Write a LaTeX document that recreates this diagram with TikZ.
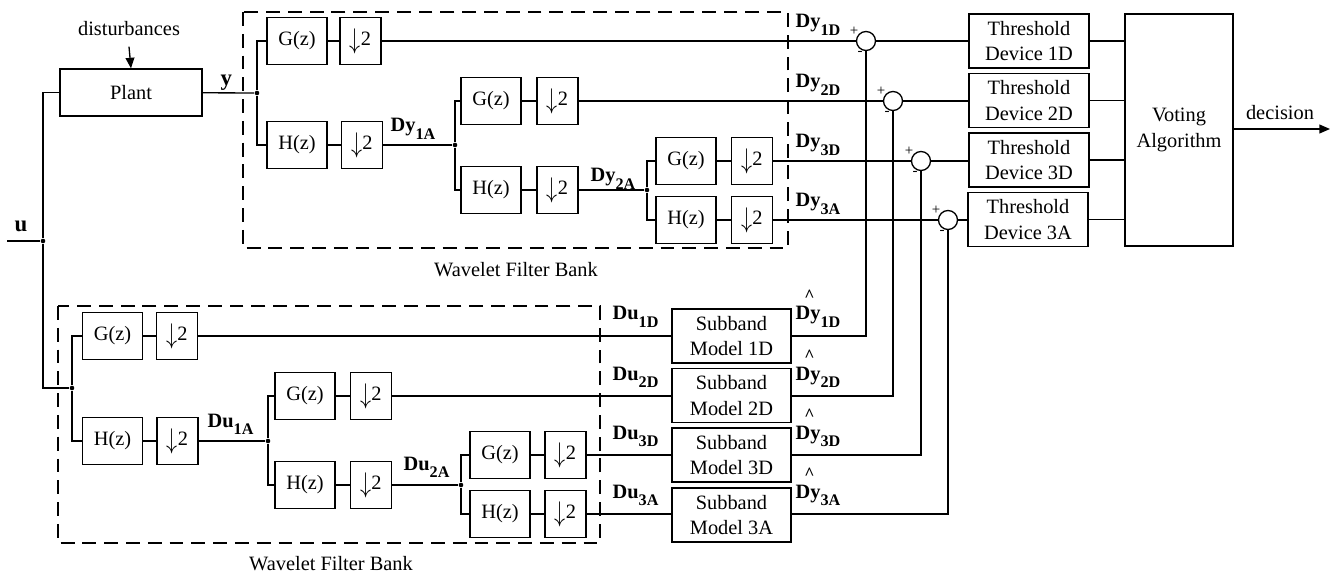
\documentclass[tikz,border=0pt]{standalone}
\usepackage{fontspec}
\setmainfont{Liberation Serif}
\usetikzlibrary{arrows.meta,positioning,calc}
% signal label: bold name with dropped bold index
\newcommand{\sgl}[2]{\textbf{#1}\raisebox{-4.5pt}{\fontsize{9.2}{10}\selectfont\textbf{#2}}}
\newcommand{\hsgl}[2]{\makebox[0pt][l]{\hspace{5pt}\raisebox{10.6pt}{\fontsize{10}{10}\selectfont\textbf{\textasciicircum}}}\sgl{#1}{#2}}
\newcommand{\dn}{\raisebox{-1.5pt}{\scalebox{1.05}[1.35]{$\downarrow$}}2}

\begin{document}
\begin{tikzpicture}[x=0.02cm,y=-0.02cm,
  font=\fontsize{11.6}{14.6}\selectfont,
  line width=0.75pt,
  fbox/.style={draw,minimum width=1.2cm,minimum height=0.94cm,inner sep=0pt},
  dbox/.style={draw,minimum width=0.82cm,minimum height=0.94cm,inner sep=0pt},
  tbox/.style={draw,minimum width=2.4cm,minimum height=1.08cm,align=center,inner sep=0pt},
  sbox/.style={draw,minimum width=2.38cm,minimum height=1.08cm,align=center,inner sep=0pt},
  sumc/.style={draw,circle,minimum size=0.38cm,inner sep=0pt},
  sgn/.style={font=\fontsize{8.5}{10}\selectfont,inner sep=0pt},
  lbl/.style={anchor=base west,inner sep=0pt},
  jdot/.style={circle,fill,inner sep=0pt,minimum size=2.6pt},
  bank/.style={draw,line width=1.6pt,dash pattern=on 7.9pt off 4.5pt},
  arr/.style={-{Triangle[length=6pt,width=5pt]}}
]
  \useasboundingbox (0,0) rectangle (1332,577);

  % Plant and inputs
  \node[anchor=base,inner xsep=0pt,inner ysep=5.6pt] (dist) at (129,36) {disturbances};
  \node[draw,minimum width=2.84cm,minimum height=0.94cm] (plant) at (131,92.5) {Plant};
  \draw[arr] (dist.south) -- (plant.north);
  \coordinate (uin) at (7,241);
  \node[jdot] (ujn) at (43,241) {};
  \node[lbl,font=\fontsize{13}{14}\selectfont] (ulbl) at (14,232) {\textbf{u}};
  \node[lbl,font=\fontsize{13}{14}\selectfont] (ylbl) at (220,86) {\textbf{y}};

  % Wavelet filter bank (output)
  \draw[bank] (243,12) rectangle (788,248);
  \node[anchor=base] (toplbl) at (516,277) {Wavelet Filter Bank};
  \node[jdot] (tj1) at (257,93) {};
  \node[fbox] (g1) at (297,41) {G(z)};
  \node[dbox] (dg1) at (360.5,41) {\dn};
  \node[fbox] (h1) at (297,145) {H(z)};
  \node[dbox] (dh1) at (362,145) {\dn};
  \node[lbl] (dy1a) at (390,132) {\sgl{Dy}{1A}};
  \node[jdot] (tj2) at (455,145) {};
  \node[fbox] (g2) at (491,101) {G(z)};
  \node[dbox] (dg2) at (557.5,101) {\dn};
  \node[fbox] (h2) at (491,190) {H(z)};
  \node[dbox] (dh2) at (557.5,190) {\dn};
  \node[lbl] (dy2a) at (590,182) {\sgl{Dy}{2A}};
  \node[jdot] (tj3) at (647,190) {};
  \node[fbox] (g3) at (686,161) {G(z)};
  \node[dbox] (dg3) at (752,161) {\dn};
  \node[fbox] (h3) at (686,220) {H(z)};
  \node[dbox] (dh3) at (752,220) {\dn};

  % Wavelet filter bank (input)
  \draw[bank] (58,306) rectangle (600,543);
  \node[anchor=base] (botlbl) at (331,570) {Wavelet Filter Bank};
  \node[jdot] (bj1) at (72,388) {};
  \node[fbox] (bg1) at (112.5,336) {G(z)};
  \node[dbox] (bdg1) at (177,336) {\dn};
  \node[fbox] (bh1) at (112.5,441) {H(z)};
  \node[dbox] (bdh1) at (177.5,441) {\dn};
  \node[lbl] (du1a) at (207,427) {\sgl{Du}{1A}};
  \node[jdot] (bj2) at (268,441) {};
  \node[fbox] (bg2) at (305,396) {G(z)};
  \node[dbox] (bdg2) at (371,396) {\dn};
  \node[fbox] (bh2) at (305,485) {H(z)};
  \node[dbox] (bdh2) at (371,485) {\dn};
  \node[lbl] (du2a) at (403,470) {\sgl{Du}{2A}};
  \node[jdot] (bj3) at (461,485) {};
  \node[fbox] (bg3) at (500,455) {G(z)};
  \node[dbox] (bdg3) at (565.5,455) {\dn};
  \node[fbox] (bh3) at (500,514) {H(z)};
  \node[dbox] (bdh3) at (565.5,514) {\dn};

  % Subband models
  \node[sbox] (m1) at (731.5,336) {Subband\\Model 1D};
  \node[sbox] (m2) at (731.5,395.5) {Subband\\Model 2D};
  \node[sbox] (m3) at (731.5,455) {Subband\\Model 3D};
  \node[sbox] (m4) at (731.5,515) {Subband\\Model 3A};
  \node[lbl] (du1d) at (612,320) {\sgl{Du}{1D}};
  \node[lbl] (du2d) at (612,380) {\sgl{Du}{2D}};
  \node[lbl] (du3d) at (612,439) {\sgl{Du}{3D}};
  \node[lbl] (du3a) at (612,498) {\sgl{Du}{3A}};
  \node[lbl] (ey1d) at (795,320) {\hsgl{Dy}{1D}};
  \node[lbl] (ey2d) at (795,380) {\hsgl{Dy}{2D}};
  \node[lbl] (ey3d) at (795,439) {\hsgl{Dy}{3D}};
  \node[lbl] (ey3a) at (795,498) {\hsgl{Dy}{3A}};

  % Residuals
  \node[lbl] (dy1d) at (795,28) {\sgl{Dy}{1D}};
  \node[lbl] (dy2d) at (795,88) {\sgl{Dy}{2D}};
  \node[lbl] (dy3d) at (795,148) {\sgl{Dy}{3D}};
  \node[lbl] (dy3a) at (795,207) {\sgl{Dy}{3A}};
  \node[sumc] (s1) at (866,41) {};
  \node[sumc] (s2) at (893,101) {};
  \node[sumc] (s3) at (921,161) {};
  \node[sumc] (s4) at (948,220) {};
  \node[sgn] (p1) at (854,31) {+};
  \node[sgn] (p2) at (881,91) {+};
  \node[sgn] (p3) at (909,151) {+};
  \node[sgn] (p4) at (936,210) {+};
  \node[sgn] (n1) at (860,53) {-};
  \node[sgn] (n2) at (887,113) {-};
  \node[sgn] (n3) at (915,173) {-};
  \node[sgn] (n4) at (942,232) {-};

  % Threshold devices and voting
  \node[tbox] (t1) at (1029,41) {Threshold\\Device 1D};
  \node[tbox] (t2) at (1029,100.5) {Threshold\\Device 2D};
  \node[tbox] (t3) at (1029,160) {Threshold\\Device 3D};
  \node[tbox] (t4) at (1028,219.5) {Threshold\\Device 3A};
  \node[draw,minimum width=2.16cm,minimum height=4.64cm,align=center] (vote) at (1179,130) {Voting\\Algorithm};
  \node[anchor=base] (declbl) at (1280,120) {decision};
  \coordinate (out) at (1330,129);

  % Connections
  \draw (uin) -- (ujn);
  \draw (plant.west) -| (ujn) |- (bj1);
  \draw (plant) -- (tj1);
  \draw (g1.west) -| (tj1) |- (h1.west);
  \draw (g1) -- (dg1);
  \draw (h1) -- (dh1);
  \draw (dh1) -- (tj2);
  \draw (g2.west) -| (tj2) |- (h2.west);
  \draw (g2) -- (dg2);
  \draw (h2) -- (dh2);
  \draw (dh2) -- (tj3);
  \draw (g3.west) -| (tj3) |- (h3.west);
  \draw (g3) -- (dg3);
  \draw (h3) -- (dh3);
  \draw (bg1.west) -| (bj1) |- (bh1.west);
  \draw (bg1) -- (bdg1);
  \draw (bh1) -- (bdh1);
  \draw (bdh1) -- (bj2);
  \draw (bg2.west) -| (bj2) |- (bh2.west);
  \draw (bg2) -- (bdg2);
  \draw (bh2) -- (bdh2);
  \draw (bdh2) -- (bj3);
  \draw (bg3.west) -| (bj3) |- (bh3.west);
  \draw (bg3) -- (bdg3);
  \draw (bh3) -- (bdh3);
  \draw (bdg1) -- (m1);
  \draw (bdg2) -- (m2.west |- bdg2);
  \draw (bdg3) -- (m3);
  \draw (bdh3) -- (m4.west |- bdh3);
  \draw (dg1) -- (s1);
  \draw (dg2) -- (s2);
  \draw (dg3) -- (s3);
  \draw (dh3) -- (s4);
  \draw (m1.east) -| (s1.south);
  \draw (m2.east |- bdg2) -| (s2.south);
  \draw (m3.east) -| (s3.south);
  \draw (m4.east |- bdh3) -| (s4.south);
  \draw (s1) -- (t1);
  \draw (s2) -- (t2.west |- s2);
  \draw (s3) -- (t3.west |- s3);
  \draw (s4) -- (t4.west |- s4);
  \draw (t1) -- (t1 -| vote.west);
  \draw (t2) -- (t2 -| vote.west);
  \draw (t3) -- (t3 -| vote.west);
  \draw (t4) -- (t4 -| vote.west);
  \draw[arr] (vote.east |- out) -- (out);
\end{tikzpicture}
\end{document}
